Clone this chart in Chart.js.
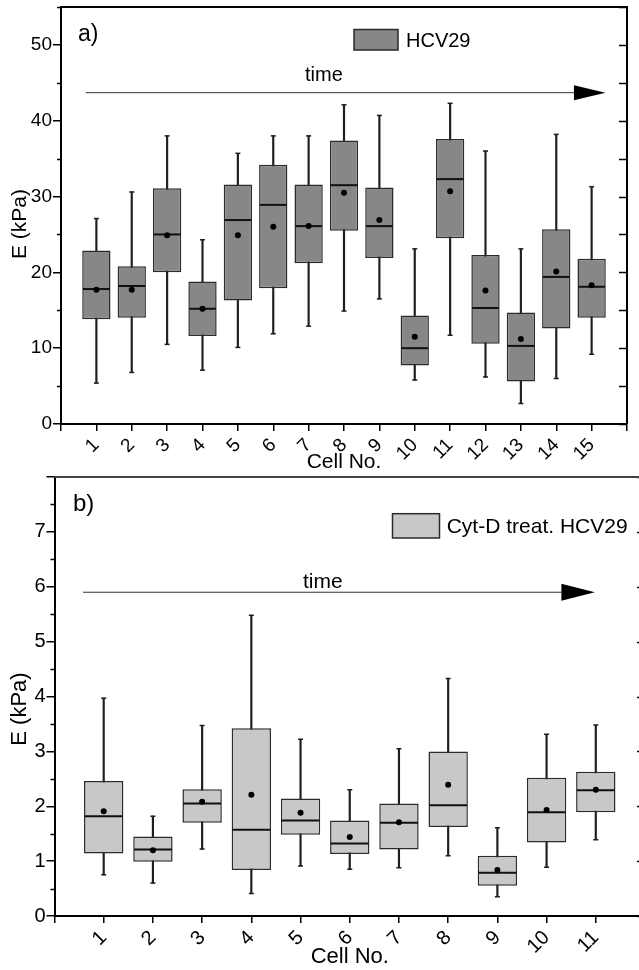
<!DOCTYPE html>
<html>
<head>
<meta charset="utf-8">
<script src="https://cdn.jsdelivr.net/npm/chart.js@4.4.1/dist/chart.umd.min.js"></script>
<style>
  html, body { margin: 0; padding: 0; background: #fff; }
  body { width: 639px; height: 970px; overflow: hidden; position: relative; }
  #wrapA { position: absolute; left: 0; top: 0; }
  #wrapB { position: absolute; left: 0; top: 465px; }
</style>
</head>
<body>
<div id="wrapA"><canvas id="chartA" width="639" height="480"></canvas></div>
<div id="wrapB"><canvas id="chartB" width="660" height="505"></canvas></div>
<script>
// Panel a) HCV29, E in kPa per cell
const cellsA = [1, 2, 3, 4, 5, 6, 7, 8, 9, 10, 11, 12, 13, 14, 15];
const minA    = [5.4, 6.8, 10.5, 7.1, 10.1, 11.9, 12.9, 14.9, 16.5, 5.8, 11.7, 6.2, 2.7, 6.0, 9.2];
const q1A     = [13.8, 14.0, 20.0, 11.6, 16.3, 17.9, 21.2, 25.5, 21.9, 7.7, 24.5, 10.6, 5.6, 12.6, 14.0];
const medianA = [17.8, 18.2, 25.0, 15.2, 26.9, 28.9, 26.1, 31.5, 26.1, 10.0, 32.3, 15.3, 10.3, 19.4, 18.1];
const q3A     = [22.9, 20.8, 31.1, 18.8, 31.6, 34.2, 31.6, 37.4, 31.2, 14.3, 37.6, 22.3, 14.7, 25.7, 21.8];
const maxA    = [27.1, 30.6, 38.0, 24.3, 35.7, 38.0, 38.0, 42.1, 40.7, 23.1, 42.3, 36.0, 23.1, 38.2, 31.3];
const meanA   = [17.7, 17.7, 24.9, 15.2, 24.9, 26.0, 26.1, 30.5, 26.9, 11.5, 30.7, 17.6, 11.2, 20.1, 18.3];
const yTicksA = [0, 10, 20, 30, 40, 50];

// Panel b) Cyt-D treated HCV29
const cellsB = [1, 2, 3, 4, 5, 6, 7, 8, 9, 10, 11];
const minB    = [0.75, 0.60, 1.22, 0.41, 0.91, 0.85, 0.88, 1.10, 0.35, 0.89, 1.39];
const q1B     = [1.14, 0.99, 1.70, 0.84, 1.48, 1.13, 1.21, 1.62, 0.55, 1.34, 1.89];
const medianB = [1.82, 1.21, 2.05, 1.57, 1.74, 1.32, 1.70, 2.02, 0.79, 1.89, 2.29];
const q3B     = [2.46, 1.45, 2.31, 3.42, 2.14, 1.74, 2.05, 3.00, 1.10, 2.52, 2.63];
const maxB    = [3.97, 1.82, 3.47, 5.48, 3.22, 2.30, 3.05, 4.33, 1.61, 3.31, 3.48];
const meanB   = [1.91, 1.20, 2.08, 2.21, 1.88, 1.44, 1.71, 2.39, 0.84, 1.93, 2.30];
const yTicksB = [0, 1, 2, 3, 4, 5, 6, 7];

const FONT = "'Liberation Sans', Arial, sans-serif";
const BOX_WIDTH = 0.8; // in cell units

// Draws minor ticks, frame, time arrow, legend and labels
const decorPlugin = {
    id: 'decor',
    afterDraw(chart, args, o) {
        const { ctx, chartArea: a, scales: { x, y } } = chart;
        ctx.save();
        ctx.strokeStyle = '#000';
        ctx.lineWidth = 1.5;
        // left minor ticks + right inward ticks
        for (let k = 0; k * o.minor <= y.max + 1e-9; k++) {
            const v = k * o.minor;
            const py = Math.round(y.getPixelForValue(v)) + 0.5;
            ctx.beginPath();
            if (k % 2 === 1) {
                ctx.moveTo(a.left - 4, py); ctx.lineTo(a.left, py);
            }
            if (o.rightAll || k % 2 === 0) {
                ctx.moveTo(a.right - 8, py); ctx.lineTo(a.right, py);
            }
            ctx.stroke();
        }
        // frame
        ctx.strokeStyle = o.frameColor;
        ctx.lineWidth = 2;
        ctx.beginPath();
        ctx.moveTo(a.left, a.top); ctx.lineTo(a.right, a.top); ctx.lineTo(a.right, a.bottom);
        ctx.stroke();

        // time arrow
        const ay = y.getPixelForValue(o.arrow.y);
        const x0 = x.getPixelForValue(o.arrow.x0);
        const xb = x.getPixelForValue(o.arrow.head);
        const xt = x.getPixelForValue(o.arrow.tip);
        ctx.strokeStyle = '#333';
        ctx.lineWidth = 1;
        ctx.beginPath();
        ctx.moveTo(x0, ay); ctx.lineTo(xb, ay);
        ctx.stroke();
        ctx.fillStyle = '#000';
        ctx.beginPath();
        ctx.moveTo(xb, ay - o.arrow.half); ctx.lineTo(xt, ay); ctx.lineTo(xb, ay + o.arrow.half);
        ctx.closePath();
        ctx.fill();

        ctx.fillStyle = '#000';
        ctx.textAlign = 'left';
        ctx.textBaseline = 'alphabetic';
        ctx.font = o.timeFont + 'px ' + FONT;
        ctx.fillText('time', o.timePos[0], o.timePos[1]);

        // legend
        const L = o.legend;
        ctx.fillStyle = o.fill;
        ctx.fillRect(L.box[0], L.box[1], L.box[2], L.box[3]);
        ctx.strokeStyle = '#2b2b2b';
        ctx.lineWidth = 1.5;
        ctx.strokeRect(L.box[0], L.box[1], L.box[2], L.box[3]);
        ctx.fillStyle = '#000';
        ctx.font = L.size + 'px ' + FONT;
        ctx.fillText(L.text, L.pos[0], L.pos[1]);

        // panel letter
        ctx.font = o.letterSize + 'px ' + FONT;
        ctx.fillText(o.letter, o.letterPos[0], o.letterPos[1]);

        // y axis title
        ctx.save();
        ctx.translate(o.yTitle.x, o.yTitle.y);
        ctx.rotate(-Math.PI / 2);
        ctx.textAlign = 'center';
        ctx.textBaseline = 'middle';
        ctx.font = o.yTitle.size + 'px ' + FONT;
        ctx.fillText('E (kPa)', 0, 0);
        ctx.restore();

        ctx.restore();
    }
};

function halfBox(chart) {
    const s = chart.scales.x;
    return s.getPixelForValue(BOX_WIDTH / 2) - s.getPixelForValue(0) - 0.75;
}

function makeBoxChart(id, d) {
    const pts = (vals) => d.cells.map((c, i) => ({ x: c, y: vals[i] }));
    const ranges = (lo, hi) => d.cells.map((c, i) => ({ x: c, y: [lo[i], hi[i]] }));

    return new Chart(document.getElementById(id), {
        type: 'bar',
        data: {
            datasets: [{
                label: 'whisker',
                data: ranges(d.min, d.max),
                backgroundColor: '#1e1e1e',
                barThickness: 1.5,
                grouped: false,
                order: 4
            }, {
                label: d.name,
                data: ranges(d.q1, d.q3),
                backgroundColor: d.fill,
                borderColor: '#2b2b2b',
                borderWidth: 1.5,
                borderSkipped: false,
                barPercentage: BOX_WIDTH,
                categoryPercentage: 1,
                grouped: false,
                order: 3
            }, {
                type: 'scatter',
                label: 'caps',
                data: pts(d.min).concat(pts(d.max)),
                pointStyle: 'line',
                pointRadius: 2.5,
                pointBorderWidth: 1.5,
                pointBorderColor: '#1e1e1e',
                order: 2
            }, {
                type: 'scatter',
                label: 'median',
                data: pts(d.median),
                pointStyle: 'line',
                pointRadius: (c) => halfBox(c.chart),
                pointBorderWidth: 2,
                pointBorderColor: '#111',
                order: 1
            }, {
                type: 'scatter',
                label: 'mean',
                data: pts(d.mean),
                pointRadius: 3,
                pointBorderWidth: 0,
                pointBackgroundColor: '#000',
                order: 0
            }]
        },
        options: {
            responsive: false,
            animation: false,
            layout: { padding: d.padding },
            plugins: {
                legend: { display: false },
                tooltip: { enabled: false },
                decor: d.decor
            },
            scales: {
                x: {
                    type: 'linear',
                    min: 0,
                    max: d.cells.length + 1,
                    offset: false,
                    ticks: {
                        stepSize: 1,
                        autoSkip: false,
                        minRotation: 45,
                        maxRotation: 45,
                        padding: 3,
                        color: '#000',
                        font: { family: FONT, size: d.tickSize },
                        callback: (v) => d.cells.includes(v) ? String(v) : ''
                    },
                    grid: { drawOnChartArea: false, offset: false, tickLength: 7, color: '#000', lineWidth: 1.5 },
                    border: { color: '#000', width: 2 },
                    title: {
                        display: true,
                        text: 'Cell No.',
                        color: '#000',
                        font: { family: FONT, size: d.titleSize },
                        padding: { top: 0, bottom: d.xTitlePad }
                    },
                    afterFit: (s) => {
                        s.height = d.xHeight;
                        s.paddingLeft = 0;
                        s.paddingRight = 0;
                    }
                },
                y: {
                    min: 0,
                    max: d.yMax,
                    ticks: {
                        stepSize: d.yStep,
                        includeBounds: false,
                        padding: 1,
                        color: '#000',
                        font: { family: FONT, size: d.tickSize },
                        callback: (v) => d.yTicks.includes(v) ? String(v) : ''
                    },
                    grid: { drawOnChartArea: false, tickLength: 8, color: '#000', lineWidth: 1.5 },
                    border: { color: '#000', width: 2 },
                    afterFit: (s) => {
                        s.width = d.yWidth;
                        s.paddingTop = 0;
                        s.paddingBottom = 0;
                    }
                }
            }
        },
        plugins: [decorPlugin]
    });
}

makeBoxChart('chartA', {
    name: 'HCV29',
    cells: cellsA, min: minA, q1: q1A, median: medianA, q3: q3A, max: maxA, mean: meanA,
    yTicks: yTicksA, yMax: 55, yStep: 10,
    fill: '#878787',
    padding: { top: 7, right: 12, left: 0, bottom: 0 },
    yWidth: 61, xHeight: 56, xTitlePad: 5,
    tickSize: 19, titleSize: 21,
    decor: {
        minor: 5, rightAll: true, frameColor: '#000', fill: '#878787',
        arrow: { x0: 0.70, head: 14.5, tip: 15.39, y: 43.7, half: 7.5 },
        timeFont: 20, timePos: [305, 81],
        legend: { box: [354, 29.5, 44, 20.5], text: 'HCV29', size: 20, pos: [406, 46.7] },
        letter: 'a)', letterSize: 23, letterPos: [78, 41],
        yTitle: { x: 20, y: 224, size: 21 }
    }
});

makeBoxChart('chartB', {
    name: 'Cyt-D treat. HCV29',
    cells: cellsB, min: minB, q1: q1B, median: medianB, q3: q3B, max: maxB, mean: meanB,
    yTicks: yTicksB, yMax: 8, yStep: 1,
    fill: '#c8c8c8',
    padding: { top: 12, right: 15, left: 0, bottom: 0 },
    yWidth: 54.5, xHeight: 54, xTitlePad: 0,
    tickSize: 20, titleSize: 22,
    decor: {
        minor: 0.5, rightAll: false, frameColor: '#444', fill: '#c8c8c8',
        arrow: { x0: 0.58, head: 10.3, tip: 10.98, y: 5.9, half: 8.5 },
        timeFont: 21, timePos: [303, 123.3],
        legend: { box: [392.5, 48.7, 47, 24.3], text: 'Cyt-D treat. HCV29', size: 21, pos: [446.7, 68.3] },
        letter: 'b)', letterSize: 24, letterPos: [73, 46],
        yTitle: { x: 20, y: 244, size: 22 }
    }
});
</script>
</body>
</html>
